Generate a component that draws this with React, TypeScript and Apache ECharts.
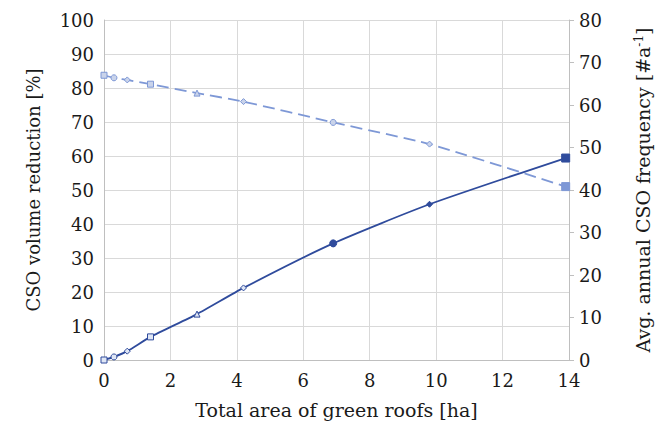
import React, { useEffect, useRef } from "react";
import * as echarts from "echarts";

const greenRoofArea = [0, 0.3, 0.7, 1.4, 2.8, 4.2, 6.9, 9.8, 13.9];
const volumeReduction = [0, 0.9, 2.6, 6.8, 13.5, 21.2, 34.3, 45.8, 59.4];
const cSOFrequency = [67, 66.4, 65.9, 64.9, 62.8, 60.8, 55.9, 50.8, 40.8];
const pointSymbols = ["rect", "circle", "diamond", "rect", "triangle", "diamond", "circle", "diamond", "rect"];
const xTicks = [0, 2, 4, 6, 8, 10, 12, 14];

const SOLID = "#2f4b9c";
const DASH = "#7e98d6";
const FONT = "DejaVu Serif";

export default function App() {
  const ref = useRef<HTMLDivElement>(null);
  useEffect(() => {
    if (!ref.current) return;
    const chart = echarts.init(ref.current, null, { renderer: "svg" });
    const last = greenRoofArea.length - 1;
    const volData = greenRoofArea.map((x, i) => ({
      value: [x, volumeReduction[i]],
      symbol: pointSymbols[i],
      symbolSize: i === last ? 8 : i === 6 ? 7 : 6,
      itemStyle:
        i >= 6
          ? { color: SOLID, borderColor: SOLID }
          : { color: "#dfe6f5", borderColor: SOLID, borderWidth: 1 },
    }));
    const freqData = greenRoofArea.map((x, i) => ({
      value: [x, cSOFrequency[i]],
      symbol: pointSymbols[i],
      symbolSize: i === last ? 8 : 6,
      itemStyle:
        i === last
          ? { color: DASH, borderColor: DASH }
          : { color: "#c9d3ea", borderColor: DASH, borderWidth: 1 },
    }));
    const text = { fontFamily: FONT, color: "#1a1a1a" };
    chart.setOption({
      animation: false,
      backgroundColor: "#ffffff",
      textStyle: { fontFamily: FONT },
      grid: { left: 104, right: 92, top: 20, bottom: 69 },
      xAxis: {
        type: "value",
        min: 0,
        max: 14,
        interval: 2,
        name: "Total area of green roofs [ha]",
        nameLocation: "middle",
        nameGap: 40,
        nameTextStyle: { ...text, fontSize: 19 },
        axisLine: { show: true, lineStyle: { color: "#bfbfbf" } },
        axisTick: { show: false },
        axisLabel: { ...text, fontSize: 18, margin: 11, customValues: xTicks },
        splitLine: { show: true, lineStyle: { color: "#d9d9d9" } },
      },
      yAxis: [
        {
          type: "value",
          min: 0,
          max: 100,
          interval: 10,
          position: "left",
          name: "CSO volume reduction [%]",
          nameLocation: "middle",
          nameRotate: 90,
          nameGap: 62,
          nameTextStyle: { ...text, fontSize: 18 },
          axisLine: { show: true, lineStyle: { color: "#bfbfbf" } },
          axisTick: { show: false },
          axisLabel: { ...text, fontSize: 18, margin: 10 },
          splitLine: { show: true, lineStyle: { color: "#d9d9d9" } },
        },
        {
          type: "value",
          min: 0,
          max: 80,
          interval: 10,
          position: "right",
          name: "Avg. annual CSO frequency [#a{sup|-1}]",
          nameLocation: "middle",
          nameRotate: 90,
          nameGap: 64,
          nameTextStyle: {
            ...text,
            fontSize: 19,
            rich: { sup: { ...text, fontSize: 12, verticalAlign: "top", padding: [0, 0, 8, 0] } },
          },
          axisLine: { show: true, lineStyle: { color: "#bfbfbf" } },
          axisTick: { show: true, length: 5, lineStyle: { color: "#bfbfbf" } },
          axisLabel: { ...text, fontSize: 18, margin: 10 },
          splitLine: { show: false },
        },
      ],
      series: [
        {
          type: "line",
          yAxisIndex: 0,
          data: volData,
          smooth: 0.2,
          lineStyle: { color: SOLID, width: 1.8 },
          z: 3,
        },
        {
          type: "line",
          yAxisIndex: 1,
          data: freqData,
          smooth: 0.2,
          lineStyle: { color: DASH, width: 1.8, type: [12, 6] },
          z: 2,
        },
      ],
    });
    return () => chart.dispose();
  }, []);
  return <div ref={ref} style={{ width: 661, height: 429, position: "absolute", left: 0, top: 0 }} />;
}
